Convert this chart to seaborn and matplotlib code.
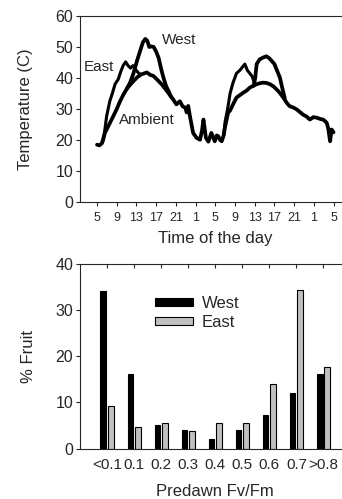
import matplotlib
matplotlib.use("Agg")
import matplotlib.pyplot as plt
from matplotlib.patches import Patch
import seaborn as sns
import pandas as pd

# hours since 5:00 on day 1
amb_t = [0, 0.5, 1.0, 1.6, 2.3, 3.3, 4.0, 4.7, 5.3, 6.0, 6.7, 7.4, 8.2, 9.0, 9.6, 10.1,
         10.8, 11.4, 12.2, 13.1, 14.0, 14.8, 15.5, 16.1, 16.8, 17.4, 17.9, 18.2, 18.5, 18.9,
         19.5, 20.2, 20.9, 21.3, 21.6, 22.1, 22.6, 23.2, 23.9, 24.3, 24.6, 25.0, 25.3, 25.7,
         26.0, 26.6, 27.0, 27.6, 28.3, 29.0, 29.7, 30.4, 31.0, 31.7, 32.4, 33.0, 33.7, 34.4,
         35.1, 35.8, 36.4, 37.1, 37.8, 38.5, 39.1, 39.8, 40.5, 41.2, 41.8, 42.5, 43.2, 43.9,
         44.6, 45.3, 45.9, 46.6, 46.9, 47.3, 47.6, 48.0]
amb_v = [18.5, 18.3, 19.0, 22.3, 24.5, 27.7, 30.0, 32.6, 34.5, 36.4, 37.8, 39.0, 40.3, 41.2, 41.5, 41.8,
         41.0, 40.7, 39.5, 38.0, 36.2, 34.5, 33.0, 31.5, 32.5, 30.8, 30.5, 28.9, 31.0, 27.3,
         22.3, 20.7, 20.1, 23.0, 26.6, 20.7, 19.5, 22.3, 19.6, 21.5, 21.2, 20.0, 19.6, 21.5,
         24.4, 28.8, 29.5, 31.5, 33.7, 34.5, 35.3, 36.0, 36.9, 37.5, 38.0, 38.3, 38.5, 38.4,
         38.0, 37.3, 36.4, 35.2, 33.7, 32.0, 30.9, 30.5, 29.9, 29.0, 28.2, 27.6, 26.6, 27.4,
         27.2, 26.8, 26.6, 25.6, 23.9, 19.6, 23.4, 22.5]

east_t1 = [1.0, 1.3, 1.95, 2.6, 3.1, 3.65, 4.3, 4.8, 5.3, 5.8, 6.3, 6.8, 7.3, 7.7, 8.2, 8.8]
east_v1 = [19.0, 20.0, 27.7, 32.6, 35.0, 38.0, 39.6, 42.0, 44.0, 45.2, 44.0, 43.2, 44.0, 43.0, 42.0, 41.0]
east_t2 = [25.7, 26.0, 26.5, 27.0, 27.6, 28.3, 29.0, 29.5, 30.0, 30.5, 31.0, 31.5, 32.0]
east_v2 = [21.5, 26.0, 30.0, 35.0, 38.5, 41.5, 42.5, 43.5, 44.5, 42.5, 41.5, 40.5, 38.0]

west_t1 = [6.0, 6.7, 7.4, 8.1, 8.8, 9.3, 9.8, 10.2, 10.6, 11.0, 11.5, 12.0, 12.5, 13.0, 13.5, 14.0, 14.6, 15.0]
west_v1 = [36.4, 38.5, 41.5, 45.5, 49.0, 51.5, 52.6, 52.0, 50.0, 50.2, 50.0, 48.5, 46.5, 43.0, 40.0, 37.5, 35.5, 34.0]
west_t2 = [31.8, 32.1, 32.4, 33.0, 33.7, 34.4, 35.0, 35.4, 36.0, 36.4, 37.1, 37.5, 38.1]
west_v2 = [37.5, 40.0, 44.5, 46.0, 46.6, 47.0, 46.3, 45.6, 44.5, 42.9, 40.2, 37.4, 33.5]

hour_labels = ["5", "9", "13", "17", "21", "1", "5", "9", "13", "17", "21", "1", "5"]

fvfm = ["<0.1", "0.1", "0.2", "0.3", "0.4", "0.5", "0.6", "0.7", ">0.8"]
west_pct = [34.2, 16.1, 5.1, 4.1, 2.1, 4.1, 7.2, 12.1, 16.2]
east_pct = [9.2, 4.7, 5.6, 3.8, 5.6, 5.6, 14.0, 34.4, 17.6]

sns.set_style("ticks")
plt.rcParams["font.family"] = ["Liberation Sans", "DejaVu Sans"]
plt.rcParams["axes.linewidth"] = 0.8

fig = plt.figure(figsize=(3.42, 4.99), dpi=100)
ax1 = fig.add_axes([0.234, 0.595, 0.791, 0.373])
ax2 = fig.add_axes([0.234, 0.101, 0.791, 0.370])

# temperature traces
lw = 2.7
sns.lineplot(x=amb_t, y=amb_v, ax=ax1, color="black", lw=lw)
sns.lineplot(x=east_t1, y=east_v1, ax=ax1, color="black", lw=2.2)
sns.lineplot(x=east_t2, y=east_v2, ax=ax1, color="black", lw=2.2)
sns.lineplot(x=west_t1, y=west_v1, ax=ax1, color="black", lw=lw)
sns.lineplot(x=west_t2, y=west_v2, ax=ax1, color="black", lw=lw)

ax1.set_xlim(-3.45, 51.45)
ax1.set_ylim(0, 60)
ax1.set_xticks(range(0, 49, 4), hour_labels, fontsize=9)
ax1.set_yticks(range(0, 61, 10))
ax1.tick_params(axis="y", labelsize=11.5, length=3, width=0.8, pad=2)
ax1.tick_params(axis="x", length=3, width=0.8, pad=4)
ax1.set_xlabel("Time of the day", fontsize=12)
ax1.set_ylabel("Temperature (C)", fontsize=12)
ax1.xaxis.set_label_coords(0.5, -0.155)
ax1.yaxis.set_label_coords(-0.174, 0.5)
ax1.text(16.6, 52.3, "West", fontsize=11, ha="center", va="center")
ax1.text(0.4, 43.6, "East", fontsize=11, ha="center", va="center")
ax1.text(10.2, 26.5, "Ambient", fontsize=11, ha="center", va="center")

# histogram of fruit
df = pd.DataFrame({
    "fvfm": fvfm * 2,
    "pct": west_pct + east_pct,
    "side": ["West"] * len(fvfm) + ["East"] * len(fvfm),
})
colors = {"West": "black", "East": "#c0c0c0"}
sns.barplot(data=df, x="fvfm", y="pct", hue="side", order=fvfm, hue_order=["West", "East"],
            palette=colors, width=0.56, gap=0.25, edgecolor="black", linewidth=0.8,
            legend=False, ax=ax2)
ax2.set_xlim(-1, 9)
ax2.set_ylim(0, 40)
ax2.set_yticks(range(0, 41, 10))
ax2.tick_params(axis="y", labelsize=11.5, length=3, width=0.8, pad=2)
ax2.tick_params(axis="x", labelsize=11, bottom=False, top=True, direction="in",
                length=3, width=0.8, pad=7)
ax2.set_xlabel("Predawn Fv/Fm", fontsize=12)
ax2.set_ylabel("% Fruit", fontsize=12)
ax2.xaxis.set_label_coords(0.5, -0.19)
ax2.yaxis.set_label_coords(-0.163, 0.5)

handles = [Patch(facecolor=colors[s], edgecolor="black", linewidth=0.8, label=s) for s in ["West", "East"]]
ax2.legend(handles=handles, loc="center left", bbox_to_anchor=(0.453, 0.373),
           bbox_transform=fig.transFigure, frameon=False, fontsize=12,
           handlelength=2.28, handleheight=0.36, handletextpad=0.52,
           labelspacing=0.2, borderpad=0, borderaxespad=0)

fig.savefig("out.png", dpi=100)
